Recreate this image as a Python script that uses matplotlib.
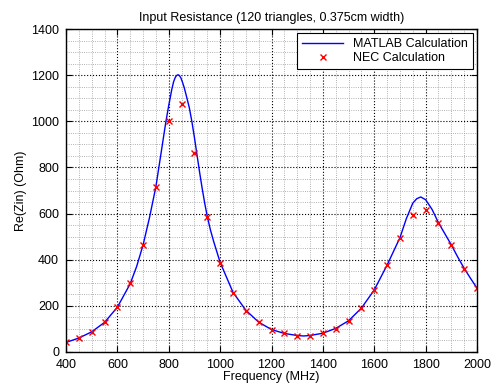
import matplotlib
matplotlib.use('Agg')
import numpy as np
import matplotlib.pyplot as plt
from matplotlib.ticker import MultipleLocator

# MATLAB curve
freq_matlab = [400, 450, 500, 550, 600, 650, 675, 700, 725, 750, 770, 789, 800,
               812, 819, 826, 831, 836, 841, 847, 853, 860, 867, 880, 890, 900,
               910, 920, 930, 940, 950, 962, 975, 1000,
               1050, 1100, 1150, 1200, 1250, 1300, 1325, 1350, 1400, 1450, 1500,
               1550, 1600, 1650, 1700, 1725, 1750, 1765, 1781, 1800, 1825, 1850,
               1875, 1900, 1925, 1950, 1975, 2000]
res_matlab = [40, 59, 86, 127, 193, 295, 370, 463, 582, 717, 862, 1000, 1070,
              1140, 1173, 1193, 1200, 1203, 1200, 1190, 1172, 1148, 1118, 1060, 1000, 930,
              855, 780, 710, 645, 587, 530, 478, 388,
              258, 180, 128, 96, 79, 70, 68, 70, 80, 101, 134,
              189, 268, 376, 495, 578, 645, 664, 672, 660, 618, 560,
              512, 464, 411, 362, 318, 276]

# NEC points
freq_nec = np.arange(400, 2001, 50)
res_nec = [43, 61, 87, 129, 195, 298, 463, 715, 1000, 1078, 865, 587, 386,
           256, 178, 127, 96, 79, 70, 70, 79, 100, 134, 189, 268, 375, 495,
           595, 615, 561, 464, 361, 278]

plt.rcParams['font.family'] = ['Liberation Sans', 'DejaVu Sans']
fig = plt.figure(figsize=(5, 3.92), dpi=100)
ax = fig.add_axes([0.132, 0.103, 0.822, 0.822])

ax.plot(freq_matlab, res_matlab, color='#0000ff', linewidth=1.0, label='MATLAB Calculation')
ax.plot(freq_nec, res_nec, 'x', color='#ff0000', markersize=4, markeredgewidth=1.0,
        label='NEC Calculation')

ax.set_xlim(400, 2000)
ax.set_ylim(0, 1400)
ax.xaxis.set_major_locator(MultipleLocator(200))
ax.yaxis.set_major_locator(MultipleLocator(200))
ax.xaxis.set_minor_locator(MultipleLocator(50))
ax.yaxis.set_minor_locator(MultipleLocator(50))
ax.grid(which='major', color='black', linestyle=':', linewidth=0.8)
ax.grid(which='minor', color='#999999', linestyle=':', linewidth=0.6)
ax.tick_params(which='both', direction='in', top=True, right=True, labelsize=9)
ax.tick_params(which='minor', length=0)
ax.tick_params(which='major', length=4)
ax.tick_params(axis='y', pad=5)
ax.tick_params(axis='x', pad=5)
for s in ax.spines.values():
    s.set_linewidth(1.0)

ax.set_xlabel('Frequency (MHz)', fontsize=9, labelpad=0)
ax.set_ylabel('Re(Zin) (Ohm)', fontsize=9, labelpad=3)
ax.set_title('Input Resistance (120 triangles, 0.375cm width)', fontsize=9, pad=6)

leg = ax.legend(loc='upper right', fontsize=9, fancybox=False, framealpha=1,
                edgecolor='black', borderaxespad=0.3, handlelength=3.3,
                borderpad=0.4, labelspacing=0.15)
leg.get_frame().set_linewidth(0.8)

plt.savefig('out.png', dpi=100)
plt.close()
